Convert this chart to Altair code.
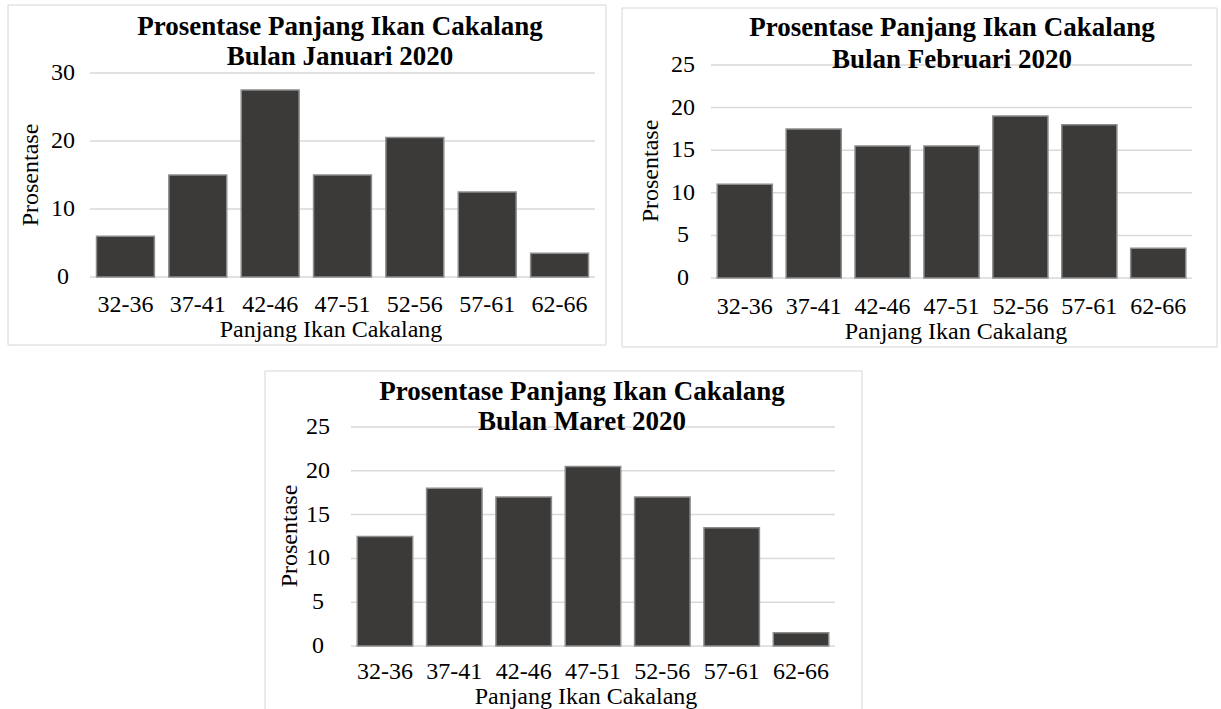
import altair as alt
import pandas as pd

# Length classes (cm) and percentage of skipjack tuna per class, per month
categories = ["32-36", "37-41", "42-46", "47-51", "52-56", "57-61", "62-66"]
januari = [6, 15, 27.5, 15, 20.5, 12.5, 3.5]
februari = [11, 17.5, 15.5, 15.5, 19, 18, 3.5]
maret = [12.5, 18, 17, 20.5, 17, 13.5, 1.5]

# y-axis ticks of each panel
ticks_januari = [0, 10, 20, 30]
ticks_februari = [0, 5, 10, 15, 20, 25]
ticks_maret = [0, 5, 10, 15, 20, 25]

title_line1 = "Prosentase Panjang Ikan Cakalang"
month_titles = ["Bulan Januari 2020", "Bulan Februari 2020", "Bulan Maret 2020"]
x_title = "Panjang Ikan Cakalang"
y_title = "Prosentase"

FONT = "Liberation Serif"
BAR_FILL = "#3b3a38"
BAR_EDGE = "#8c8c8c"
GRID = "#d9d9d9"
FRAME = "#d6d6d6"
INK = "#000000"

CANVAS_W, CANVAS_H = 1221, 709

# Panel geometry on the page, in pixels: plot area (x0, y0, w, h), outer frame,
# title centre and line positions, label / axis-title positions
layouts = [
    dict(x0=90, y0=73, w=505, h=204,
         frame=(8, 606, 5, 345), open_bottom=False,
         tx=340, ty=(27, 57), ylx=63, xly=305, xt=(331, 330), yt=(31, 175)),
    dict(x0=711, y0=65, w=481, h=213,
         frame=(622, 1217, 8, 347), open_bottom=False,
         tx=952, ty=(28, 60), ylx=683, xly=307, xt=(956, 332), yt=(651, 171)),
    dict(x0=351, y0=427, w=484, h=219,
         frame=(265, 862, 371, 720), open_bottom=True,
         tx=582, ty=(392, 422), ylx=318, xly=672, xt=(586, 697), yt=(290, 536)),
]

one = pd.DataFrame({"k": [0]})


def panel(values, ticks, month_title, g):
    df = pd.DataFrame({"Panjang": categories, "Prosentase": values})
    tk = pd.DataFrame({"v": ticks, "lab": [str(t) for t in ticks]})

    xs = alt.Scale(domain=categories, range=[g["x0"], g["x0"] + g["w"]],
                   paddingInner=0.2, paddingOuter=0.09)
    ys = alt.Scale(domain=[0, max(ticks)], range=[g["y0"] + g["h"], g["y0"]],
                   nice=False, zero=True)

    # outer frame of the panel
    fx1, fx2, fy1, fy2 = g["frame"]
    rule = dict(color=FRAME, strokeWidth=1)
    edges = [
        alt.Chart(one).mark_rule(**rule).encode(
            x=alt.value(fx1), x2=alt.value(fx2), y=alt.value(fy1)),
        alt.Chart(one).mark_rule(**rule).encode(
            x=alt.value(fx1), y=alt.value(fy1), y2=alt.value(fy2)),
        alt.Chart(one).mark_rule(**rule).encode(
            x=alt.value(fx2), y=alt.value(fy1), y2=alt.value(fy2)),
    ]
    if not g["open_bottom"]:
        edges.append(alt.Chart(one).mark_rule(**rule).encode(
            x=alt.value(fx1), x2=alt.value(fx2), y=alt.value(fy2)))

    grid = alt.Chart(tk).mark_rule(color=GRID, strokeWidth=1.5).encode(
        y=alt.Y("v:Q", scale=ys, axis=None),
        x=alt.value(g["x0"]), x2=alt.value(g["x0"] + g["w"]),
    )

    bars = alt.Chart(df).mark_bar(
        color=BAR_FILL, stroke=BAR_EDGE, strokeWidth=1.5
    ).encode(
        x=alt.X("Panjang:N", scale=xs, sort=categories, axis=None),
        y=alt.Y("Prosentase:Q", scale=ys, axis=None),
    )

    ylabels = alt.Chart(tk).mark_text(
        font=FONT, fontSize=24, color=INK, align="center", baseline="middle"
    ).encode(
        y=alt.Y("v:Q", scale=ys, axis=None),
        x=alt.value(g["ylx"]),
        text="lab:N",
    )

    xlabels = alt.Chart(df).mark_text(
        font=FONT, fontSize=24, color=INK, align="center", baseline="middle"
    ).encode(
        x=alt.X("Panjang:N", scale=xs, sort=categories, axis=None),
        y=alt.value(g["xly"]),
        text="Panjang:N",
    )

    xtitle = alt.Chart(one).mark_text(
        text=x_title, font=FONT, fontSize=24, color=INK,
        align="center", baseline="middle",
    ).encode(x=alt.value(g["xt"][0]), y=alt.value(g["xt"][1]))

    ytitle = alt.Chart(one).mark_text(
        text=y_title, font=FONT, fontSize=24, color=INK, angle=270,
        align="center", baseline="middle",
    ).encode(x=alt.value(g["yt"][0]), y=alt.value(g["yt"][1]))

    heads = [
        alt.Chart(one).mark_text(
            text=line, font=FONT, fontSize=27, fontWeight="bold",
            color=INK, align="center", baseline="middle",
        ).encode(x=alt.value(g["tx"]), y=alt.value(yy))
        for line, yy in zip([title_line1, month_title], g["ty"])
    ]

    return alt.layer(*edges, grid, bars, ylabels, xlabels, xtitle, ytitle, *heads)


p1 = panel(januari, ticks_januari, month_titles[0], layouts[0])
p2 = panel(februari, ticks_februari, month_titles[1], layouts[1])
p3 = panel(maret, ticks_maret, month_titles[2], layouts[2])

chart = alt.layer(p1, p2, p3).resolve_scale(
    x="independent", y="independent"
).properties(
    width=CANVAS_W, height=CANVAS_H, padding=0, background="#ffffff",
    autosize=alt.AutoSizeParams(type="none"),
).configure_view(stroke=None)

chart.save("out.html", embed_options={"renderer": "svg", "actions": False})
